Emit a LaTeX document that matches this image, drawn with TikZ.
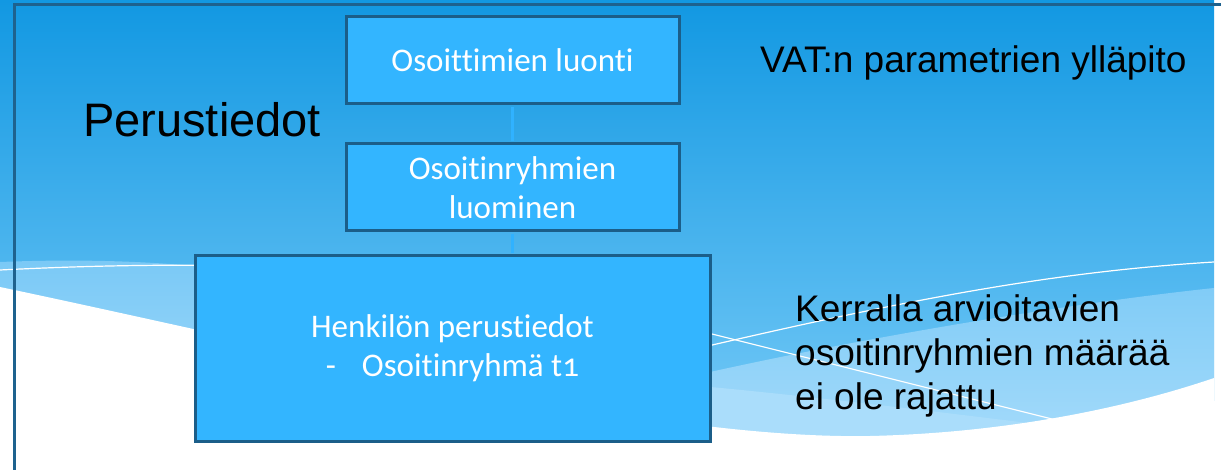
\documentclass[tikz,border=0pt]{standalone}
\usepackage{fontspec}
\setmainfont{Liberation Sans}
\newfontfamily\calibri{Carlito}[Numbers=OldStyle, Ligatures=NoCommon]
\usetikzlibrary{positioning}
\definecolor{skytop}{RGB}{18,152,226}
\definecolor{skybot}{RGB}{108,197,245}
\definecolor{swooshtop}{RGB}{122,201,246}
\definecolor{swooshbot}{RGB}{170,221,251}
\definecolor{boxfill}{RGB}{51,181,255}
\definecolor{boxline}{RGB}{27,94,137}
\definecolor{linkblue}{RGB}{48,178,255}
\definecolor{framecol}{RGB}{30,98,142}
\tikzset{
    stepbox/.style={draw=boxline, line width=3pt, fill=boxfill, text=white,
        font=\calibri\fontsize{33}{39}\selectfont, align=center, inner sep=0pt},
    smallbox/.style={stepbox, minimum width=333pt, minimum height=87pt},
    link/.style={draw=linkblue, line width=3.5pt},
    note/.style={font=\fontsize{37}{44}\selectfont, inner sep=0pt, align=left},
    title/.style={font=\fontsize{47}{56}\selectfont, inner sep=0pt},
    wave/.style={draw=white, line width=1.2pt},
}

\begin{document}
\begin{tikzpicture}[x=1pt,y=-1pt]
\useasboundingbox (0,0) rectangle (1221,470);
% background
\fill[white] (0,0) rectangle (1221,470);
\shade[top color=skytop, bottom color=skybot] (0,0) rectangle (1214,400);
\shade[top color=swooshtop, bottom color=swooshbot] (0,262) .. controls (100,258) and (200,262) .. (300,280) -- (710,372) .. controls (900,330) and (1100,300) .. (1214,288) -- (1214,470) -- (0,470) -- cycle;
\fill[swooshbot] (700,386) .. controls (850,400) and (1000,420) .. (1120,434) -- (700,440) -- cycle;
\fill[white] (0,287) .. controls (300,350) and (650,440) .. (870,436) .. controls (1000,433) and (1120,410) .. (1214,378) -- (1214,470) -- (0,470) -- cycle;
\draw[wave] (0,270) .. controls (80,266) and (160,264) .. (260,266);
\draw[wave] (640,362) .. controls (900,300) and (1050,272) .. (1214,262);
\draw[wave] (640,316) -- (1068,423);
% frame
\draw[framecol, line width=3pt] (14,470) -- (14,5) -- (1221,5);

% steps
\node[smallbox] (luonti) at (512.5,60.5) {Osoittimien luonti};
\node[smallbox] (ryhmat) at (512.5,187.5) {Osoitinryhmien\\luominen};
\node[stepbox, minimum width=515pt, minimum height=185pt] (henkilo) at (452.5,348.5)
    {Henkilön perustiedot\\-\hspace{26pt}Osoitinryhmä t1};
\draw[link] ([yshift=-1.5pt]luonti.south) -- ([yshift=1.5pt]ryhmat.north);
\draw[link] ([yshift=-1.5pt]ryhmat.south) -- ([yshift=1.5pt]ryhmat.south |- henkilo.north);

% texts
\node[title, anchor=base west] (perus) at (83,137) {Perustiedot};
\node[note, anchor=base west] (vat) at (760,73) {VAT:n parametrien ylläpito};
\node[note, anchor=north west] (kerralla) at (795,294)
    {Kerralla arvioitavien\\osoitinryhmien määrää\\ei ole rajattu};
\end{tikzpicture}
\end{document}
